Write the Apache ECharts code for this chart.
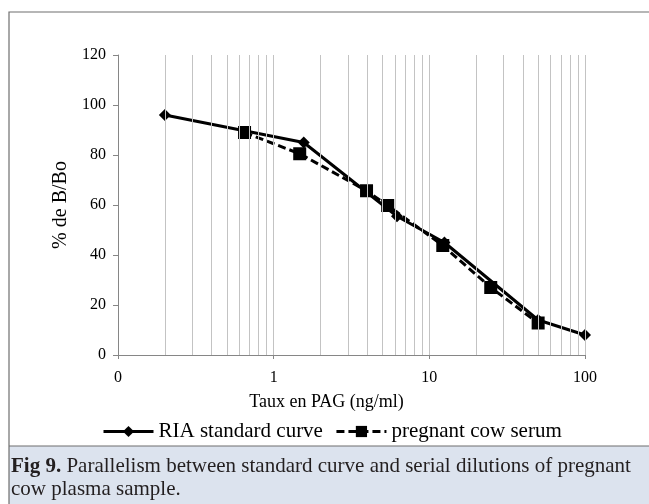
<!DOCTYPE html>
<html>
<head>
<meta charset="utf-8">
<script src="https://cdn.jsdelivr.net/npm/echarts@6/dist/echarts.min.js"></script>
<style>
  html, body { margin: 0; padding: 0; background: #fff; }
  #chart { width: 649px; height: 504px; }
</style>
</head>
<body>
<div id="chart"></div>
<script>
  // RIA standard curve (diamonds, solid)
  var riaX = [0.2, 1.56, 6.2, 12.5, 50, 100];
  var riaY = [96, 85, 55.5, 45, 14, 8];
  // pregnant cow serum (squares, dashed)
  var serumX = [0.65, 1.47, 3.95, 5.4, 12.2, 24.8, 50];
  var serumY = [89, 80.5, 65.7, 59.8, 43.8, 27, 12.8];
  // vertical gridlines of the log axis
  var gridValues = [0.2, 0.3, 0.4, 0.5, 0.6, 0.7, 0.8, 0.9, 1,
    2, 3, 4, 5, 6, 7, 8, 9, 10,
    20, 30, 40, 50, 60, 70, 80, 90, 100];

  function pairs(xs, ys) {
    var out = [];
    for (var i = 0; i < xs.length; i++) out.push([xs[i], ys[i]]);
    return out;
  }

  var font = 'Liberation Serif';
  var myChart = echarts.init(document.getElementById('chart'));

  myChart.setOption({
    animation: false,
    textStyle: { fontFamily: font },
    grid: { left: 118, right: 64, top: 55, bottom: 149 },
    legend: {
      data: ['RIA standard curve', 'pregnant cow serum'],
      left: 97,
      top: 416,
      itemWidth: 50,
      itemHeight: 14,
      itemGap: 12,
      lineStyle: { width: 3 },
      textStyle: { fontFamily: font, fontSize: 21, color: '#000' }
    },
    xAxis: {
      type: 'log',
      logBase: 10,
      min: 0.1,
      max: 100,
      name: 'Taux en PAG (ng/ml)',
      nameLocation: 'middle',
      nameGap: 38,
      nameTextStyle: { fontFamily: font, fontSize: 18, color: '#000', padding: [0, 50, 0, 0] },
      axisLine: { lineStyle: { color: '#868686', width: 1 } },
      axisTick: { show: true, length: 4, lineStyle: { color: '#868686' } },
      splitLine: { show: false },
      axisLabel: {
        margin: 15,
        fontSize: 16,
        color: '#000',
        formatter: function (v) { return v < 1 ? '0' : String(Math.round(v)); }
      }
    },
    yAxis: {
      type: 'value',
      min: 0,
      max: 120,
      interval: 20,
      name: '% de B/Bo',
      nameLocation: 'middle',
      nameGap: 42,
      nameRotate: 90,
      nameTextStyle: { fontFamily: font, fontSize: 20, color: '#000' },
      axisLine: { show: true, lineStyle: { color: '#868686', width: 1 } },
      axisTick: { show: true, length: 5, lineStyle: { color: '#868686' } },
      splitLine: { show: false },
      axisLabel: { margin: 12, fontSize: 16, color: '#000' }
    },
    graphic: [
      {
        type: 'rect',
        z: -10,
        shape: { x: 9, y: 446, width: 640, height: 58 },
        style: { fill: '#dce3ee', stroke: null }
      },
      {
        type: 'rect',
        z: -9,
        shape: { x: 9, y: 12, width: 650, height: 500 },
        style: { fill: null, stroke: '#6f6f6f', lineWidth: 1.2 }
      },
      {
        type: 'line',
        z: -9,
        shape: { x1: 9, y1: 446, x2: 649, y2: 446 },
        style: { stroke: '#6f6f6f', lineWidth: 1.2 }
      },
      {
        type: 'text',
        left: 11,
        top: 455,
        style: {
          text: '{b|Fig 9.} Parallelism between standard curve and serial dilutions of pregnant\ncow plasma sample.',
          font: '21px ' + font,
          fill: '#231f20',
          lineHeight: 23,
          rich: {
            b: { fontWeight: 'bold', fontSize: 21, fontFamily: font, fill: '#231f20' }
          }
        }
      }
    ],
    series: [
      {
        type: 'line',
        silent: true,
        data: [],
        markLine: {
          silent: true,
          symbol: ['none', 'none'],
          label: { show: false },
          lineStyle: { color: '#c3c3c3', type: 'solid', width: 1 },
          data: gridValues.map(function (v) { return { xAxis: v }; })
        }
      },
      {
        name: 'RIA standard curve',
        type: 'line',
        data: pairs(riaX, riaY),
        symbol: 'diamond',
        symbolSize: 12,
        itemStyle: { color: '#000' },
        lineStyle: { color: '#000', width: 3 }
      },
      {
        name: 'pregnant cow serum',
        type: 'line',
        data: pairs(serumX, serumY),
        symbol: 'rect',
        symbolSize: 13,
        itemStyle: { color: '#000' },
        lineStyle: { color: '#000', width: 3, type: [8, 4] }
      }
    ]
  });
</script>
</body>
</html>
